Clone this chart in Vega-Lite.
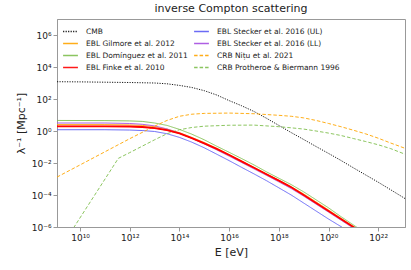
{
  "$schema": "https://vega.github.io/schema/vega-lite/v6.json",
  "width": 348,
  "height": 208,
  "autosize": {"type": "none"},
  "padding": {"left": 57, "top": 19, "right": 6, "bottom": 43},
  "config": {
    "font": "DejaVu Sans",
    "view": {"stroke": "#999999", "strokeWidth": 1},
    "axis": {"domainColor": "#999999", "tickColor": "#999999", "labelColor": "#222222", "titleColor": "#222222", "labelFontSize": 9, "titleFontSize": 11, "titleFontWeight": "normal", "grid": false, "tickSize": 4}
  },
  "title": {"text": "inverse Compton scattering", "fontSize": 11, "fontWeight": "normal", "color": "#222222", "offset": 5},
  "data": {"values": [
    {"s":"CMB","E":1.18e9,"v":1200},{"s":"CMB","E":1e10,"v":1175},{"s":"CMB","E":1e11,"v":1122},{"s":"CMB","E":1e12,"v":1072},{"s":"CMB","E":1e13,"v":1000},{"s":"CMB","E":3.16e13,"v":891},{"s":"CMB","E":1e14,"v":708},{"s":"CMB","E":3.16e14,"v":525},{"s":"CMB","E":1e15,"v":331},{"s":"CMB","E":3.16e15,"v":178},{"s":"CMB","E":1e16,"v":79.4},{"s":"CMB","E":3.16e16,"v":38},{"s":"CMB","E":1e17,"v":16.6},{"s":"CMB","E":3.16e17,"v":6.31},{"s":"CMB","E":1e18,"v":2.24},{"s":"CMB","E":3.16e18,"v":0.794},{"s":"CMB","E":1e19,"v":0.295},{"s":"CMB","E":3.16e19,"v":0.107},{"s":"CMB","E":1e20,"v":0.0398},{"s":"CMB","E":3.16e20,"v":0.0145},{"s":"CMB","E":1e21,"v":0.00501},{"s":"CMB","E":3.16e21,"v":0.00178},{"s":"CMB","E":1e22,"v":0.000631},{"s":"CMB","E":3.16e22,"v":0.000214},{"s":"CMB","E":1.2e23,"v":0.00006},
    {"s":"Dom","E":1.18e9,"v":4.57},{"s":"Dom","E":1e11,"v":4.47},{"s":"Dom","E":1e12,"v":4.27},{"s":"Dom","E":3.16e12,"v":3.98},{"s":"Dom","E":1e13,"v":3.16},{"s":"Dom","E":3.16e13,"v":2.24},{"s":"Dom","E":1e14,"v":1.26},{"s":"Dom","E":3.16e14,"v":0.631},{"s":"Dom","E":1e15,"v":0.282},{"s":"Dom","E":3.16e15,"v":0.112},{"s":"Dom","E":1e16,"v":0.0468},{"s":"Dom","E":3.16e16,"v":0.0191},{"s":"Dom","E":1e17,"v":0.00759},{"s":"Dom","E":3.16e17,"v":0.00282},{"s":"Dom","E":1e18,"v":0.00112},{"s":"Dom","E":3.16e18,"v":0.000447},{"s":"Dom","E":1e19,"v":0.000158},{"s":"Dom","E":3.16e19,"v":0.0000501},{"s":"Dom","E":1e20,"v":0.0000158},{"s":"Dom","E":3.16e20,"v":0.00000447},{"s":"Dom","E":1e21,"v":0.00000135},{"s":"Dom","E":3.16e21,"v":0.000000398},
    {"s":"Gil","E":1.18e9,"v":2.51},{"s":"Gil","E":1e11,"v":2.51},{"s":"Gil","E":1e12,"v":2.4},{"s":"Gil","E":3.16e12,"v":2.24},{"s":"Gil","E":1e13,"v":1.86},{"s":"Gil","E":3.16e13,"v":1.32},{"s":"Gil","E":1e14,"v":0.794},{"s":"Gil","E":3.16e14,"v":0.398},{"s":"Gil","E":1e15,"v":0.191},{"s":"Gil","E":3.16e15,"v":0.0832},{"s":"Gil","E":1e16,"v":0.0339},{"s":"Gil","E":3.16e16,"v":0.0135},{"s":"Gil","E":1e17,"v":0.00537},{"s":"Gil","E":3.16e17,"v":0.00214},{"s":"Gil","E":1e18,"v":0.000851},{"s":"Gil","E":3.16e18,"v":0.000331},{"s":"Gil","E":1e19,"v":0.000117},{"s":"Gil","E":3.16e19,"v":0.0000372},{"s":"Gil","E":1e20,"v":0.0000117},{"s":"Gil","E":3.16e20,"v":0.00000355},{"s":"Gil","E":1e21,"v":0.00000112},{"s":"Gil","E":3.16e21,"v":0.000000355},
    {"s":"Fin","E":1.18e9,"v":1.95},{"s":"Fin","E":1e11,"v":1.95},{"s":"Fin","E":1e12,"v":1.91},{"s":"Fin","E":3.16e12,"v":1.78},{"s":"Fin","E":1e13,"v":1.51},{"s":"Fin","E":3.16e13,"v":1.12},{"s":"Fin","E":1e14,"v":0.708},{"s":"Fin","E":3.16e14,"v":0.355},{"s":"Fin","E":1e15,"v":0.17},{"s":"Fin","E":3.16e15,"v":0.0759},{"s":"Fin","E":1e16,"v":0.0316},{"s":"Fin","E":3.16e16,"v":0.0126},{"s":"Fin","E":1e17,"v":0.00501},{"s":"Fin","E":3.16e17,"v":0.002},{"s":"Fin","E":1e18,"v":0.000794},{"s":"Fin","E":3.16e18,"v":0.000302},{"s":"Fin","E":1e19,"v":0.0001},{"s":"Fin","E":3.16e19,"v":0.0000316},{"s":"Fin","E":1e20,"v":0.00001},{"s":"Fin","E":3.16e20,"v":0.00000316},{"s":"Fin","E":1e21,"v":0.000001},{"s":"Fin","E":3.16e21,"v":0.000000316},
    {"s":"LL","E":1.18e9,"v":3.16},{"s":"LL","E":1e11,"v":3.16},{"s":"LL","E":1e12,"v":2.95},{"s":"LL","E":3.16e12,"v":2.63},{"s":"LL","E":1e13,"v":2.09},{"s":"LL","E":3.16e13,"v":1.35},{"s":"LL","E":1e14,"v":0.741},{"s":"LL","E":3.16e14,"v":0.347},{"s":"LL","E":1e15,"v":0.155},{"s":"LL","E":3.16e15,"v":0.0661},{"s":"LL","E":1e16,"v":0.0269},{"s":"LL","E":3.16e16,"v":0.0107},{"s":"LL","E":1e17,"v":0.00427},{"s":"LL","E":3.16e17,"v":0.0017},{"s":"LL","E":1e18,"v":0.000661},{"s":"LL","E":3.16e18,"v":0.000251},{"s":"LL","E":1e19,"v":0.0000851},{"s":"LL","E":3.16e19,"v":0.0000269},{"s":"LL","E":1e20,"v":0.00000851},{"s":"LL","E":3.16e20,"v":0.00000269},{"s":"LL","E":1e21,"v":0.000000851},{"s":"LL","E":3.16e21,"v":0.000000269},
    {"s":"UL","E":1.18e9,"v":1.2},{"s":"UL","E":1e11,"v":1.2},{"s":"UL","E":1e12,"v":1.15},{"s":"UL","E":3.16e12,"v":1.07},{"s":"UL","E":1e13,"v":0.933},{"s":"UL","E":3.16e13,"v":0.676},{"s":"UL","E":1e14,"v":0.398},{"s":"UL","E":3.16e14,"v":0.2},{"s":"UL","E":1e15,"v":0.0891},{"s":"UL","E":3.16e15,"v":0.0355},{"s":"UL","E":1e16,"v":0.0141},{"s":"UL","E":3.16e16,"v":0.00537},{"s":"UL","E":1e17,"v":0.00209},{"s":"UL","E":3.16e17,"v":0.000794},{"s":"UL","E":1e18,"v":0.000282},{"s":"UL","E":3.16e18,"v":0.0001},{"s":"UL","E":1e19,"v":0.0000316},{"s":"UL","E":3.16e19,"v":0.00001},{"s":"UL","E":1e20,"v":0.00000316},{"s":"UL","E":3.16e20,"v":0.00000107},{"s":"UL","E":1e21,"v":0.000000355},
    {"s":"Nitu","E":1.18e9,"v":0.00132},{"s":"Nitu","E":1e10,"v":0.00759},{"s":"Nitu","E":1e11,"v":0.0501},{"s":"Nitu","E":1e12,"v":0.331},{"s":"Nitu","E":1e13,"v":2.0},{"s":"Nitu","E":3.16e13,"v":4.57},{"s":"Nitu","E":1e14,"v":8.32},{"s":"Nitu","E":3.16e14,"v":11.2},{"s":"Nitu","E":1e15,"v":12.6},{"s":"Nitu","E":1e16,"v":13.2},{"s":"Nitu","E":1e17,"v":12.0},{"s":"Nitu","E":1e18,"v":9.55},{"s":"Nitu","E":3.16e18,"v":8.32},{"s":"Nitu","E":1e19,"v":6.61},{"s":"Nitu","E":3.16e19,"v":4.57},{"s":"Nitu","E":1e20,"v":2.95},{"s":"Nitu","E":3.16e20,"v":1.86},{"s":"Nitu","E":1e21,"v":1.12},{"s":"Nitu","E":3.16e21,"v":0.661},{"s":"Nitu","E":1e22,"v":0.355},{"s":"Nitu","E":3.16e22,"v":0.178},{"s":"Nitu","E":1.2e23,"v":0.0832},
    {"s":"Pro","E":3.16e9,"v":0.000000234},{"s":"Pro","E":3.47e11,"v":0.0195},{"s":"Pro","E":1e12,"v":0.0447},{"s":"Pro","E":3.16e12,"v":0.112},{"s":"Pro","E":1e13,"v":0.282},{"s":"Pro","E":3.16e13,"v":0.676},{"s":"Pro","E":1e14,"v":1.2},{"s":"Pro","E":3.16e14,"v":1.66},{"s":"Pro","E":1e15,"v":2.0},{"s":"Pro","E":1e16,"v":2.29},{"s":"Pro","E":1e17,"v":2.34},{"s":"Pro","E":1e18,"v":1.86},{"s":"Pro","E":3.16e18,"v":1.58},{"s":"Pro","E":1e19,"v":1.32},{"s":"Pro","E":3.16e19,"v":1.0},{"s":"Pro","E":1e20,"v":0.741},{"s":"Pro","E":3.16e20,"v":0.525},{"s":"Pro","E":1e21,"v":0.339},{"s":"Pro","E":3.16e21,"v":0.219},{"s":"Pro","E":1e22,"v":0.138},{"s":"Pro","E":3.16e22,"v":0.0794},{"s":"Pro","E":1.2e23,"v":0.0355}
  ]},
  "encoding": {
    "x": {"field": "E", "type": "quantitative", "scale": {"type": "log", "domain": [1.18e9, 1.2e23], "nice": false},
      "axis": {"title": "E [eV]", "values": [1e10, 1e12, 1e14, 1e16, 1e18, 1e20, 1e22], "titlePadding": 4,
        "labelExpr": "datum.value==1e10?'10¹⁰':datum.value==1e12?'10¹²':datum.value==1e14?'10¹⁴':datum.value==1e16?'10¹⁶':datum.value==1e18?'10¹⁸':datum.value==1e20?'10²⁰':'10²²'"}},
    "y": {"field": "v", "type": "quantitative", "scale": {"type": "log", "domain": [1e-6, 1e7], "nice": false},
      "axis": {"title": "λ⁻¹ [Mpc⁻¹]", "values": [1e-6, 1e-4, 0.01, 1, 100, 1e4, 1e6], "titlePadding": 5,
        "labelExpr": "datum.value==1e-6?'10⁻⁶':datum.value==1e-4?'10⁻⁴':datum.value==0.01?'10⁻²':datum.value==1?'10⁰':datum.value==100?'10²':datum.value==1e4?'10⁴':'10⁶'"}}
  },
  "layer": [
    {
      "mark": {"type": "line", "clip": true, "strokeWidth": 1, "opacity": 0.9},
      "encoding": {
        "color": {"field": "s", "type": "nominal",
          "scale": {"domain": ["CMB", "Gil", "Dom", "Fin", "UL", "LL", "Nitu", "Pro"],
                    "range": ["#000000", "#ffa500", "#7fbf4f", "#ff0000", "#5c5cf5", "#a64de0", "#ffa500", "#7fbf4f"]},
          "legend": {"title": null, "orient": "none", "legendX": 5, "legendY": 4, "columns": 2, "columnPadding": 3, "rowPadding": 0,
            "symbolType": "stroke", "symbolSize": 220, "symbolStrokeWidth": 1.5, "labelFontSize": 7.5, "labelColor": "#222222", "labelOffset": 7, "padding": 0,
            "labelExpr": "datum.value=='CMB'?'CMB':datum.value=='UL'?'EBL Stecker et al. 2016 (UL)':datum.value=='Gil'?'EBL Gilmore et al. 2012':datum.value=='LL'?'EBL Stecker et al. 2016 (LL)':datum.value=='Dom'?'EBL Domínguez et al. 2011':datum.value=='Nitu'?'CRB Nițu et al. 2021':datum.value=='Fin'?'EBL Finke et al. 2010':'CRB Protheroe & Biermann 1996'"}},
        "strokeDash": {"field": "s", "type": "nominal",
          "scale": {"domain": ["CMB", "Gil", "Dom", "Fin", "UL", "LL", "Nitu", "Pro"],
                    "range": [[1.2, 1.3], [1, 0], [1, 0], [1, 0], [1, 0], [1, 0], [3.5, 2], [3.5, 2]]}}
      }
    },
    {
      "transform": [{"filter": "datum.s=='Fin'"}],
      "mark": {"type": "line", "clip": true, "strokeWidth": 1.8, "color": "#ff0000"},
      "encoding": {}
    }
  ]
}
